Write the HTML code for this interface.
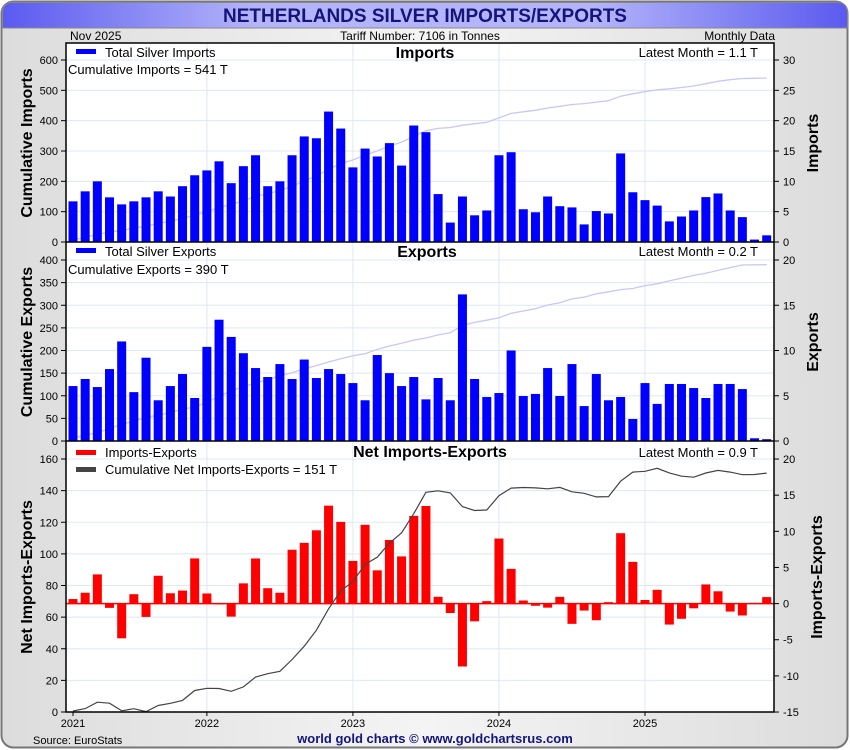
<!DOCTYPE html>
<html><head><meta charset="utf-8"><style>
html,body{margin:0;padding:0;background:#fff;}
svg{display:block;font-family:"Liberation Sans",sans-serif;}
</style></head><body>
<svg id="chart" width="850" height="750" viewBox="0 0 850 750" xmlns="http://www.w3.org/2000/svg">
<defs>
<linearGradient id="tg" x1="0" x2="1" y1="0" y2="0"><stop offset="0" stop-color="#5a5af0"/><stop offset="0.3" stop-color="#b4b4fa"/><stop offset="0.7" stop-color="#b4b4fa"/><stop offset="1" stop-color="#5a5af0"/></linearGradient>
<linearGradient id="bg" x1="0" x2="1" y1="0" y2="0"><stop offset="0" stop-color="#dcdcdc"/><stop offset="0.5" stop-color="#f4f4f4"/><stop offset="1" stop-color="#dcdcdc"/></linearGradient>
</defs>
<rect x="1.5" y="1.5" width="846" height="746" rx="12" fill="url(#bg)" stroke="#777" stroke-width="2"/>
<path d="M2.5,28 L2.5,13 Q2.5,2.5 13,2.5 L837,2.5 Q847.5,2.5 847.5,13 L847.5,28 Z" fill="url(#tg)" stroke="#888" stroke-width="1"/>
<text x="425" y="22" text-anchor="middle" font-size="19" font-weight="bold" fill="#14147a">NETHERLANDS SILVER IMPORTS/EXPORTS</text>
<text x="70" y="40" font-size="12" fill="#000">Nov  2025</text>
<text x="420" y="40" text-anchor="middle" font-size="12" fill="#000">Tariff Number: 7106 in Tonnes</text>
<text x="775" y="40" text-anchor="end" font-size="12" fill="#000">Monthly Data</text>
<rect x="66" y="43" width="708" height="669" fill="#fff"/>
<g id="grid"></g>
<g id="marks"></g>
<g id="axes"></g>
<rect x="66" y="43" width="708" height="669" fill="none" stroke="#000" stroke-width="1.5"/>
<line x1="66" y1="242" x2="774" y2="242" stroke="#000" stroke-width="1.5"/>
<line x1="66" y1="441" x2="774" y2="441" stroke="#000" stroke-width="1.5"/>
<text x="33" y="744" font-size="11" fill="#000">Source: EuroStats</text>
<text x="435" y="743" text-anchor="middle" font-size="13" font-weight="bold" fill="#14147a">world gold charts © www.goldchartsrus.com</text>
</svg>
<script>
const imports = [6.7,8.35,10.0,7.36,6.2,6.7,7.36,8.35,7.5,9.2,11.0,11.8,13.3,9.7,12.5,14.3,9.2,10.0,14.3,17.4,17.1,21.5,18.7,12.3,15.4,14.1,16.3,12.6,19.2,18.1,7.9,3.2,7.5,4.4,5.2,14.3,14.8,5.4,4.9,7.5,5.9,5.7,2.9,5.1,4.7,14.6,8.2,6.9,6.0,3.4,4.2,5.2,7.4,8.0,5.2,4.1,0.4,1.1];
const exports_ = [6.07,6.85,5.96,7.95,11.0,5.4,9.2,4.5,6.07,7.4,4.75,10.4,13.4,11.5,9.7,8.06,7.07,8.5,6.85,9.0,6.96,7.95,7.4,6.4,4.5,9.5,7.5,6.07,7.07,4.6,6.96,4.5,16.2,6.85,4.86,5.3,10.0,4.97,5.2,8.06,4.97,8.5,3.86,7.4,4.5,4.86,2.43,6.4,4.1,6.3,6.3,5.85,4.75,6.3,6.3,5.74,0.3,0.2];
const yearLabels = ["2021","2022","2023","2024","2025"];
const p1LeftTicks = [0,100,200,300,400,500,600];
const p1RightTicks = [0,5,10,15,20,25,30];
const p2LeftTicks = [0,50,100,150,200,250,300,350,400];
const p2RightTicks = [0,5,10,15,20];
const p3LeftTicks = [0,20,40,60,80,100,120,140,160];
const p3RightTicks = [-15,-10,-5,0,5,10,15,20];

const NS="http://www.w3.org/2000/svg";
const G=document.getElementById('grid'),M=document.getElementById('marks'),A=document.getElementById('axes');
function mk(parent,tag,at){const e=document.createElementNS(NS,tag);for(const k in at)e.setAttribute(k,at[k]);parent.appendChild(e);return e;}
const L=66,R=774;
const xC=i=>73+i*12.17;
const yearX=k=>73+(11+12*(k-1))*12.17;
const P=[
 {top:43,bot:242,lt:p1LeftTicks,rt:p1RightTicks,ly:v=>242-v*182/600,ry:v=>242-v*182/30},
 {top:242,bot:441,lt:p2LeftTicks,rt:p2RightTicks,ly:v=>441-v*181/400,ry:v=>441-v*181/20},
 {top:441,bot:712,lt:p3LeftTicks,rt:p3RightTicks,ly:v=>712-v*253/160,ry:v=>603.6-v*253/35}
];
P.forEach((p,pi)=>{
 p.lt.forEach(v=>{const y=p.ly(v);
  const g=mk(G,'line',{x1:L,x2:R,y1:y,y2:y,stroke:'#dde8f4','stroke-width':1});
  
  
  const t=mk(A,'line',{x1:L-5,x2:L,y1:y,y2:y,stroke:'#000'});
  
  
  const tx=mk(A,'text',{x:L-8,y:y+4,'text-anchor':'end','font-size':11});tx.textContent=v;
  
  
 });
 p.rt.forEach(v=>{const y=p.ry(v);
  const t=mk(A,'line',{x1:R,x2:R+5,y1:y,y2:y,stroke:'#000'});
  
  
  const tx=mk(A,'text',{x:R+9,y:y+4,'font-size':11});tx.textContent=v;
  
  
 });
 for(let k=1;k<yearLabels.length;k++){const x=yearX(k);
  const g=mk(G,'line',{x1:x,x2:x,y1:p.top,y2:p.bot,stroke:'#dde8f4','stroke-width':1});
  
  
 }
});
yearLabels.forEach((lab,k)=>{const x=k===0?73:yearX(k);
 const t=mk(A,'line',{x1:x,x2:x,y1:712,y2:716,stroke:'#000'});
 
 
 const tx=mk(A,'text',{x:x,y:727,'text-anchor':'middle','font-size':11});tx.textContent=lab;
 
 
});
function cum(a){let s=0;return a.map(v=>s+=v);}
function line(p,vals,yf,color,w,name){
 const d=vals.map((v,i)=>(i?'L':'M')+xC(i).toFixed(1)+','+Math.min(p.bot,yf(v)).toFixed(1)).join(' ');
 const e=mk(M,'path',{d:d,fill:'none',stroke:color,'stroke-width':w});
 
 
}
function bars(p,vals,yf,color,name){
 const y0=yf(0);
 vals.forEach((v,i)=>{const y=yf(v);
  const b=mk(M,'rect',{x:xC(i)-4.5,y:Math.min(y,y0),width:9,height:Math.max(0.5,Math.abs(y0-y)),fill:color});
  
  
 });
}
line(P[0],cum(imports),P[0].ly,'#c8c8f6',1.3,'cumulative-imports-line');
bars(P[0],imports,P[0].ry,'#0000ff','import-bar');
line(P[1],cum(exports_),P[1].ly,'#c8c8f6',1.3,'cumulative-exports-line');
bars(P[1],exports_,P[1].ry,'#0000ff','export-bar');
const net=imports.map((v,i)=>v-exports_[i]);
const z=mk(M,'line',{x1:L,x2:R,y1:P[2].ry(0),y2:P[2].ry(0),stroke:'#ff0000','stroke-width':1.5});


bars(P[2],net,P[2].ry,'#ff0000','net-bar');
line(P[2],cum(net).map(v=>Math.max(0,v)),P[2].ly,'#444',1.2,'cumulative-net-line');

function txt(x,y,s,opt,name){const e=mk(A,'text',Object.assign({x:x,y:y,'font-size':13},opt||{}));e.textContent=s;
 
 return e;}
function sw(x,y,c,name){const r=mk(A,'rect',{x:x,y:y,width:20,height:5,fill:c});
 
 }
const tI=imports.reduce((a,b)=>a+b,0),tE=exports_.reduce((a,b)=>a+b,0);
sw(76,49,'#0000ff','legend-imports-swatch');txt(105,57,'Total Silver Imports',{},'legend-imports');
txt(425,58,'Imports',{'font-size':16,'font-weight':'bold','text-anchor':'middle'},'panel-title-imports');
txt(758,57,'Latest Month = '+imports[imports.length-1].toFixed(1)+' T',{'text-anchor':'end'},'latest-imports');
txt(68,74,'Cumulative Imports = '+Math.round(tI)+' T',{},'cumulative-imports-label');
sw(76,248,'#0000ff','legend-exports-swatch');txt(105,256,'Total Silver Exports',{},'legend-exports');
txt(427,257,'Exports',{'font-size':16,'font-weight':'bold','text-anchor':'middle'},'panel-title-exports');
txt(758,256,'Latest Month = '+exports_[exports_.length-1].toFixed(1)+' T',{'text-anchor':'end'},'latest-exports');
txt(68,274,'Cumulative Exports = '+Math.round(tE)+' T',{},'cumulative-exports-label');
sw(76,450,'#ff0000','legend-net-swatch');txt(105,457,'Imports-Exports',{},'legend-net');
sw(76,467,'#444','legend-cum-net-swatch');txt(105,474,'Cumulative Net Imports-Exports = '+Math.round(tI-tE)+' T',{},'legend-cum-net');
txt(430,457,'Net Imports-Exports',{'font-size':16,'font-weight':'bold','text-anchor':'middle'},'panel-title-net');
txt(758,457,'Latest Month = '+net[net.length-1].toFixed(1)+' T',{'text-anchor':'end'},'latest-net');
function vt(x,y,s,name){txt(x,y,s,{'font-size':16,'font-weight':'bold','text-anchor':'middle',transform:'rotate(-90 '+x+' '+y+')'},name);}
vt(32,143,'Cumulative Imports','left-axis-title-imports');
vt(32,342,'Cumulative Exports','left-axis-title-exports');
vt(32,577,'Net Imports-Exports','left-axis-title-net');
vt(818,143,'Imports','right-axis-title-imports');
vt(818,342,'Exports','right-axis-title-exports');
vt(822,577,'Imports-Exports','right-axis-title-net');
</script>
</body></html>
